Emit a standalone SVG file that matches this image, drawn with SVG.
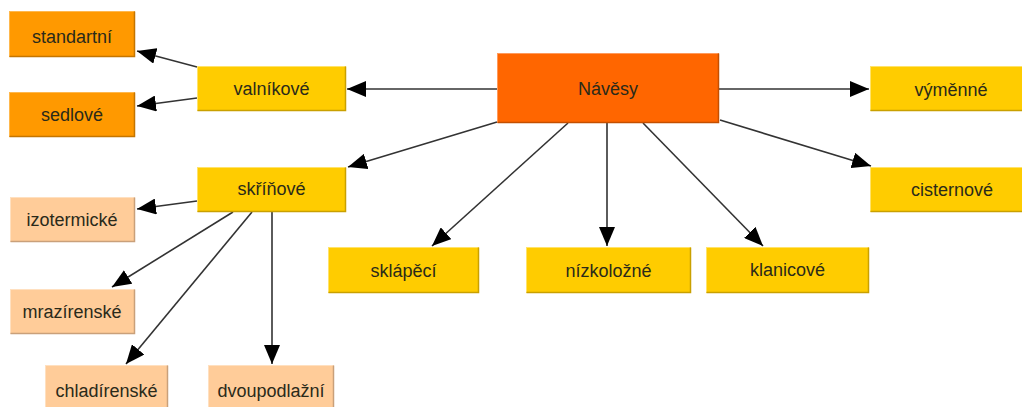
<svg xmlns="http://www.w3.org/2000/svg" width="1022" height="407" viewBox="0 0 1022 407">
<style>
  .box { stroke-width: 1; }
  .yel { fill: #FFCC00; stroke: #FFE36A; }
  .org { fill: #FF9900; stroke: #FFB84D; }
  .red { fill: #FF6600; stroke: #FF9A5C; }
  .pch { fill: #FFCC99; stroke: #FFE0C0; }
  .sh { fill: none; stroke-width: 1.5; }
  .yel-sh { stroke: #C9A000; }
  .org-sh { stroke: #C47500; }
  .red-sh { stroke: #C44F00; }
  .pch-sh { stroke: #C9A07A; }
  text { font-family: "Liberation Sans", Arial, sans-serif; font-size: 18px; fill: #2a2a1a; text-anchor: middle; }
  .conn line { stroke: #333333; stroke-width: 1.6; marker-end: url(#ah); }
</style>
<defs>
  <marker id="ah" markerUnits="userSpaceOnUse" markerWidth="20" markerHeight="16" viewBox="0 0 20 16" refX="19" refY="8" orient="auto">
    <path d="M0,0 L19,8 L0,16 Z" fill="#000000"/>
  </marker>
</defs>
<rect width="1022" height="407" fill="#FFFFFF"/>

<g class="conn" id="connectors">
  <line x1="497" y1="89" x2="347" y2="89"/>
  <line x1="197" y1="67" x2="137" y2="51"/>
  <line x1="197" y1="98" x2="137" y2="106"/>
  <line x1="497" y1="122" x2="348" y2="167"/>
  <line x1="197" y1="201" x2="137" y2="209"/>
  <line x1="233" y1="212" x2="112" y2="287"/>
  <line x1="252" y1="212" x2="126" y2="364"/>
  <line x1="272" y1="212" x2="272" y2="364"/>
  <line x1="568" y1="123" x2="432" y2="246"/>
  <line x1="607" y1="123" x2="607" y2="246"/>
  <line x1="643" y1="123" x2="763" y2="246"/>
  <line x1="719" y1="89" x2="869" y2="89"/>
  <line x1="720" y1="120" x2="871" y2="166"/>
</g>

<g id="navesy">
  <rect class="box red" x="497.5" y="53.5" width="221" height="69"/>
  <polyline class="sh red-sh" points="497.5,122.5 718.5,122.5 718.5,53.5"/>
  <text x="608" y="95">Návěsy</text>
</g>
<g id="valnikove">
  <rect class="box yel" x="197.5" y="66.5" width="148" height="44"/>
  <polyline class="sh yel-sh" points="197.5,110.5 345.5,110.5 345.5,66.5"/>
  <text x="271.5" y="95">valníkové</text>
</g>
<g id="standartni">
  <rect class="box org" x="9.5" y="11.5" width="125" height="45"/>
  <polyline class="sh org-sh" points="9.5,56.5 134.5,56.5 134.5,11.5"/>
  <text x="72" y="43">standartní</text>
</g>
<g id="sedlove">
  <rect class="box org" x="9.5" y="92.5" width="125" height="44"/>
  <polyline class="sh org-sh" points="9.5,136.5 134.5,136.5 134.5,92.5"/>
  <text x="72" y="121">sedlové</text>
</g>
<g id="skrinove">
  <rect class="box yel" x="197.5" y="167.5" width="148" height="44"/>
  <polyline class="sh yel-sh" points="197.5,211.5 345.5,211.5 345.5,167.5"/>
  <text x="271.5" y="195">skříňové</text>
</g>
<g id="izotermicke">
  <rect class="box pch" x="10.5" y="197.5" width="124" height="44"/>
  <polyline class="sh pch-sh" points="10.5,241.5 134.5,241.5 134.5,197.5"/>
  <text x="72" y="226">izotermické</text>
</g>
<g id="mrazirenske">
  <rect class="box pch" x="10.5" y="289.5" width="124" height="44"/>
  <polyline class="sh pch-sh" points="10.5,333.5 134.5,333.5 134.5,289.5"/>
  <text x="72" y="318">mrazírenské</text>
</g>
<g id="chladirenske">
  <rect class="box pch" x="45.5" y="365.5" width="122" height="46"/>
  <polyline class="sh pch-sh" points="167.5,365.5 167.5,411"/>
  <text x="106.5" y="397">chladírenské</text>
</g>
<g id="dvoupodlazni">
  <rect class="box pch" x="208.5" y="365.5" width="125" height="46"/>
  <polyline class="sh pch-sh" points="333.5,365.5 333.5,411"/>
  <text x="271" y="397">dvoupodlažní</text>
</g>
<g id="sklapeci">
  <rect class="box yel" x="328.5" y="247.5" width="150" height="45"/>
  <polyline class="sh yel-sh" points="328.5,292.5 478.5,292.5 478.5,247.5"/>
  <text x="403.5" y="277">sklápěcí</text>
</g>
<g id="nizkolozne">
  <rect class="box yel" x="526.5" y="247.5" width="164" height="45"/>
  <polyline class="sh yel-sh" points="526.5,292.5 690.5,292.5 690.5,247.5"/>
  <text x="608.5" y="277">nízkoložné</text>
</g>
<g id="klanicove">
  <rect class="box yel" x="706.5" y="247.5" width="162" height="45"/>
  <polyline class="sh yel-sh" points="706.5,292.5 868.5,292.5 868.5,247.5"/>
  <text x="787.5" y="276">klanicové</text>
</g>
<g id="vymenne">
  <rect class="box yel" x="870.5" y="66.5" width="160" height="44"/>
  <polyline class="sh yel-sh" points="870.5,110.5 1030,110.5"/>
  <text x="951" y="96">výměnné</text>
</g>
<g id="cisternove">
  <rect class="box yel" x="870.5" y="167.5" width="160" height="44"/>
  <polyline class="sh yel-sh" points="870.5,211.5 1030,211.5"/>
  <text x="952" y="196">cisternové</text>
</g>
</svg>
